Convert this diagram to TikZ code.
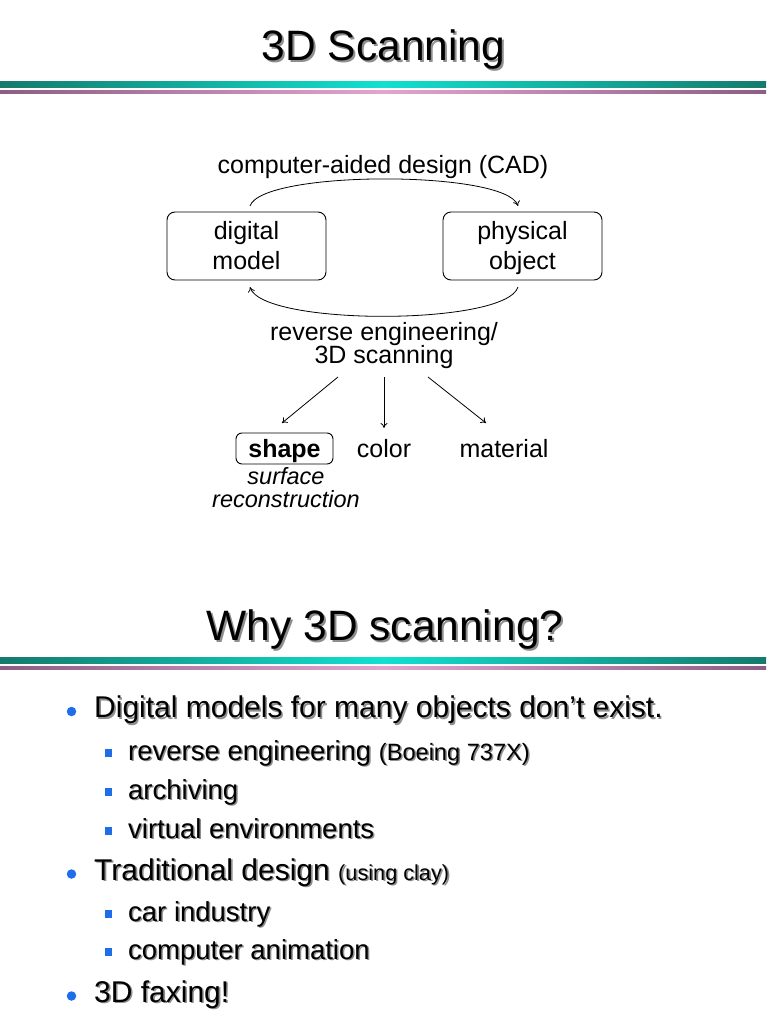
\documentclass[tikz,border=0pt]{standalone}
\usepackage{fontspec}
\setmainfont{Liberation Sans}
\usetikzlibrary{arrows.meta,calc}
\definecolor{tealdark}{HTML}{147A6C}
\definecolor{tealbright}{HTML}{12E0CE}
\definecolor{pinkdark}{HTML}{8E5C84}
\definecolor{pinkbright}{HTML}{E2A6CE}
\definecolor{bulletblue}{HTML}{1E6EEA}
\definecolor{shadowgray}{HTML}{8E8E8E}
\newcommand{\shd}[2][2pt]{\makebox[0pt][l]{\kern#1\raisebox{-#1}{\color{shadowgray}#2}}#2}
\tikzset{
  titletext/.style={font=\fontsize{42.5}{50}\selectfont, inner sep=0pt, anchor=base},
  dtext/.style={font=\fontsize{25}{29}\selectfont, inner sep=0pt, anchor=base},
  itext/.style={font=\fontsize{23.5}{28}\selectfont\itshape, inner sep=0pt, anchor=base},
  boxnode/.style={draw, rounded corners=8pt, line width=0.9pt, minimum width=159pt, minimum height=68pt, inner sep=0pt},
  lone/.style={anchor=base west, inner sep=0pt, font=\fontsize{30}{36}\selectfont},
  ltwo/.style={anchor=base west, inner sep=0pt, font=\fontsize{27.5}{33}\selectfont},
  dotbullet/.style={circle, fill=bulletblue, minimum size=9.5pt, inner sep=0pt},
  sqbullet/.style={rectangle, fill=bulletblue, minimum size=7.5pt, inner sep=0pt},
  conn/.style={line width=0.8pt, -{To[length=5pt,width=7pt]}},
}
\begin{document}
\begin{tikzpicture}[x=1pt,y=-1pt]
\useasboundingbox (0,0) rectangle (768,1024);
\fill[white] (0,0) rectangle (768,1024);

% ---- title 1
\node[titletext] (t1) at (383.5,61) {\shd{3D Scanning}};
\shade[left color=tealdark, right color=tealdark, middle color=tealbright] (0,81.5) rectangle (766,87.5);
\shade[left color=pinkdark, right color=pinkdark, middle color=pinkbright] (0,90.5) rectangle (766,93.5);

% ---- diagram
\node[dtext] (cad) at (383,174) {computer-aided design (CAD)};
\node[boxnode] (dm) at (246.5,246) {};
\node[boxnode] (po) at (522.5,246) {};
\node[dtext] (dm1) at (246.5,240) {digital};
\node[dtext] (dm2) at (246.5,269) {model};
\node[dtext] (po1) at (522.5,240) {physical};
\node[dtext] (po2) at (522.5,269) {object};
\coordinate (a1) at (250,206);
\coordinate (a2) at (518,206);
\coordinate (b1) at (518,287);
\coordinate (b2) at (250,287);
\draw[conn] (a1) .. controls (262,170) and (506,170) .. (a2);
\draw[conn] (b1) .. controls (506,326) and (262,326) .. (b2);
\node[dtext] (re1) at (384,340) {reverse engineering/};
\node[dtext] (re2) at (384,363) {3D scanning};

\node[draw, rounded corners=6pt, line width=0.9pt, minimum width=97pt, minimum height=31pt, inner sep=0pt] (shapebox) at (284.5,448.5) {};
\node[dtext, font=\fontsize{25}{29}\selectfont\bfseries] (shape) at (284.5,457.5) {shape};
\node[dtext] (color) at (384,457.5) {color};
\node[dtext] (material) at (504,457.5) {material};
\node[itext] (surf1) at (286,484.5) {surface};
\node[itext] (surf2) at (286,507) {reconstruction};

\coordinate (s1) at (338,377);
\coordinate (s2) at (384,377);
\coordinate (s3) at (428,377);
\coordinate (e1) at (282,423);
\coordinate (e2) at (384,428);
\coordinate (e3) at (486,423);
\draw[conn] (s1) -- (e1);
\draw[conn] (s2) -- (e2);
\draw[conn] (s3) -- (e3);

% ---- title 2
\node[titletext] (t2) at (385,640) {\shd{Why 3D scanning?}};
\shade[left color=tealdark, right color=tealdark, middle color=tealbright] (0,657.5) rectangle (766,663.5);
\shade[left color=pinkdark, right color=pinkdark, middle color=pinkbright] (0,666.5) rectangle (766,669.5);

% ---- bullets
\node[dotbullet] (b1d) at (71.5,711.5) {};
\node[lone] (l1) at (94,717.5) {\shd[1.6pt]{Digital models for many objects don’t exist.}};
\node[sqbullet] (q1) at (108.5,753) {};
\node[ltwo] (l11) at (128,760) {\shd[1.5pt]{reverse engineering {\fontsize{23.6}{28}\selectfont (Boeing 737X)}}};
\node[sqbullet] (q2) at (108.5,792) {};
\node[ltwo] (l12) at (128,799) {\shd[1.5pt]{archiving}};
\node[sqbullet] (q3) at (108.5,831) {};
\node[ltwo] (l13) at (128,838) {\shd[1.5pt]{virtual environments}};
\node[dotbullet] (b2d) at (71.5,874) {};
\node[lone] (l2) at (94,880) {\shd[1.6pt]{Traditional design {\fontsize{21.7}{26}\selectfont (using clay)}}};
\node[sqbullet] (q4) at (108.5,914) {};
\node[ltwo] (l21) at (128,921) {\shd[1.5pt]{car industry}};
\node[sqbullet] (q5) at (108.5,952) {};
\node[ltwo] (l22) at (128,959) {\shd[1.5pt]{computer animation}};
\node[dotbullet] (b3d) at (71.5,996) {};
\node[lone] (l3) at (94,1002) {\shd[1.6pt]{3D faxing!}};
\end{tikzpicture}
\end{document}
